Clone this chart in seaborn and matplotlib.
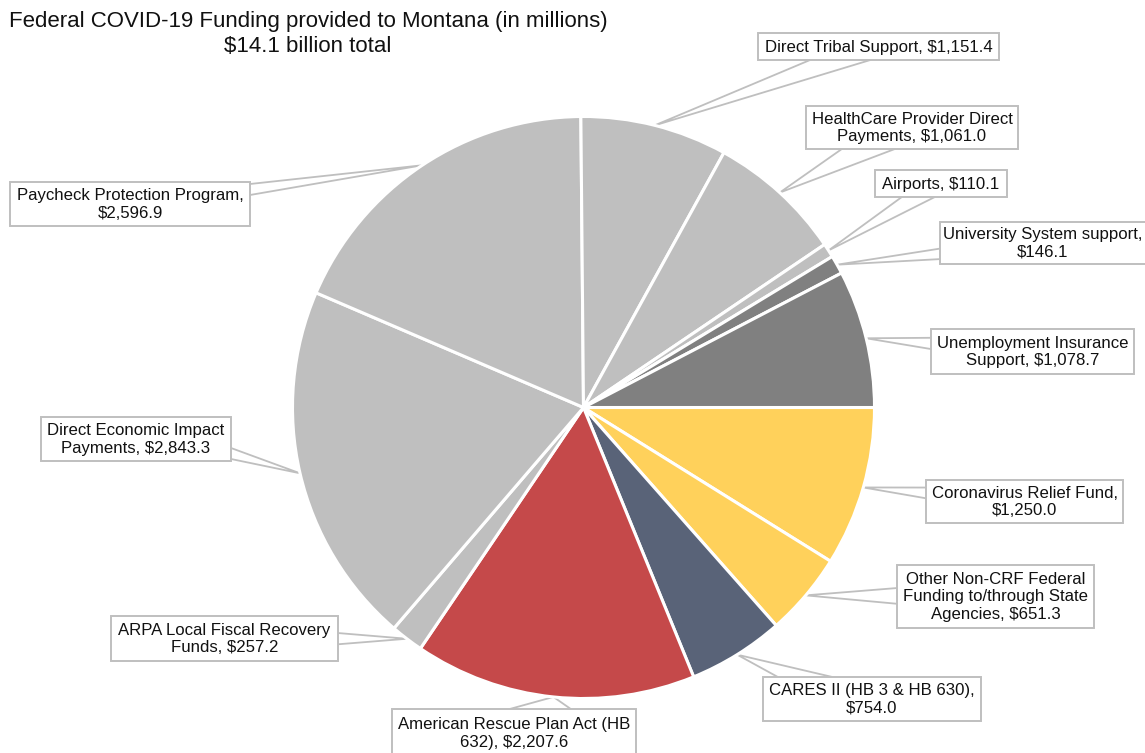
import matplotlib
matplotlib.use("Agg")
import matplotlib.pyplot as plt
from matplotlib.patches import Rectangle, Polygon
import numpy as np
import seaborn as sns

sns.set_theme(style="white")
plt.rcParams["font.family"] = ["Liberation Sans", "DejaVu Sans"]

# Funding streams, in millions of dollars (clockwise from 3 o'clock)
programs = [
    "Coronavirus Relief Fund,\n{}",
    "Other Non-CRF Federal\nFunding to/through State\nAgencies, {}",
    "CARES II (HB 3 & HB 630),\n{}",
    "American Rescue Plan Act (HB\n632), {}",
    "ARPA Local Fiscal Recovery\nFunds, {}",
    "Direct Economic Impact\nPayments, {}",
    "Paycheck Protection Program,\n{}",
    "Direct Tribal Support, {}",
    "HealthCare Provider Direct\nPayments, {}",
    "Airports, {}",
    "University System support,\n{}",
    "Unemployment Insurance\nSupport, {}",
]
amounts = [1250.0, 651.3, 754.0, 2207.6, 257.2, 2843.3, 2596.9,
           1151.4, 1061.0, 110.1, 146.1, 1078.7]
slice_colors = ["#FFD15B", "#FFD15B", "#596378", "#C5494A", "#BFBFBF", "#BFBFBF",
                "#BFBFBF", "#BFBFBF", "#BFBFBF", "#BFBFBF", "#808080", "#808080"]

title_lines = ["Federal COVID-19 Funding provided to Montana (in millions)",
               "$14.1 billion total"]

# Callout boxes (left, top, right, bottom) in canvas pixels
boxes = [
    (926, 480, 1123, 523),
    (897, 565, 1094, 628),
    (763, 677, 981, 721),
    (392, 709, 636, 757),
    (111, 616, 338, 661),
    (41, 417, 231, 461),
    (10, 182, 250, 226),
    (758, 33, 999, 60),
    (806, 106, 1018, 149),
    (875, 170, 1007, 197),
    (940, 222, 1146, 264),
    (931, 329, 1134, 374),
]

W, H = 1145, 753
CENTER = (583.5, 407.5)
RADIUS = 291
EDGE_GRAY = "#BFBFBF"

fig = plt.figure(figsize=(W / 100, H / 100), dpi=100)
ax = fig.add_axes([0, 0, 1, 1])

wedges, _ = ax.pie(amounts, colors=slice_colors, startangle=0, counterclock=True,
                   center=CENTER, radius=RADIUS,
                   wedgeprops=dict(edgecolor="white", linewidth=2.2))
for w in wedges:
    w.set_zorder(2)

ax.set_xlim(0, W)
ax.set_ylim(H, 0)
ax.set_aspect("equal")
ax.axis("off")


def base_points(box, tip, frac=0.25):
    l, t, r, b = box
    cx, cy = (l + r) / 2, (t + b) / 2
    dx, dy = tip[0] - cx, tip[1] - cy
    tx = ((r if dx > 0 else l) - cx) / dx if dx != 0 else np.inf
    ty = ((b if dy > 0 else t) - cy) / dy if dy != 0 else np.inf
    if tx < ty:
        xe = r if dx > 0 else l
        half = frac * (b - t) / 2
        y0 = np.clip(cy + tx * dy, t + half + 2, b - half - 2)
        return (xe, y0 - half), (xe, y0 + half)
    ye = b if dy > 0 else t
    half = frac * (r - l) / 2
    x0 = np.clip(cx + ty * dx, l + half + 2, r - half - 2)
    return (x0 - half, ye), (x0 + half, ye)


total = sum(amounts)
angles = np.cumsum([0] + [a / total * 360 for a in amounts])
for i, (tmpl, val, box) in enumerate(zip(programs, amounts, boxes)):
    mid = np.deg2rad((angles[i] + angles[i + 1]) / 2)
    tip = (CENTER[0] + RADIUS * np.cos(mid), CENTER[1] + RADIUS * np.sin(mid))
    p1, p2 = base_points(box, tip)
    ax.add_patch(Polygon([p1, tip, p2], closed=False, facecolor="white",
                         edgecolor=EDGE_GRAY, linewidth=1.3, zorder=1))
    l, t, r, b = box
    ax.add_patch(Rectangle((l, t), r - l, b - t, facecolor="white",
                           edgecolor=EDGE_GRAY, linewidth=1.4, zorder=3))
    ax.text((l + r) / 2, (t + b) / 2 + 0.5, tmpl.format(f"${val:,.1f}"),
            ha="center", va="center", multialignment="center",
            fontsize=12.1, color="#111111", linespacing=1.22, zorder=4)

ax.text(308, 21, title_lines[0], ha="center", va="center", fontsize=16,
        color="#111111")
ax.text(308, 46, title_lines[1], ha="center", va="center", fontsize=16,
        color="#111111")

fig.savefig("out.png", dpi=100, facecolor="white")
